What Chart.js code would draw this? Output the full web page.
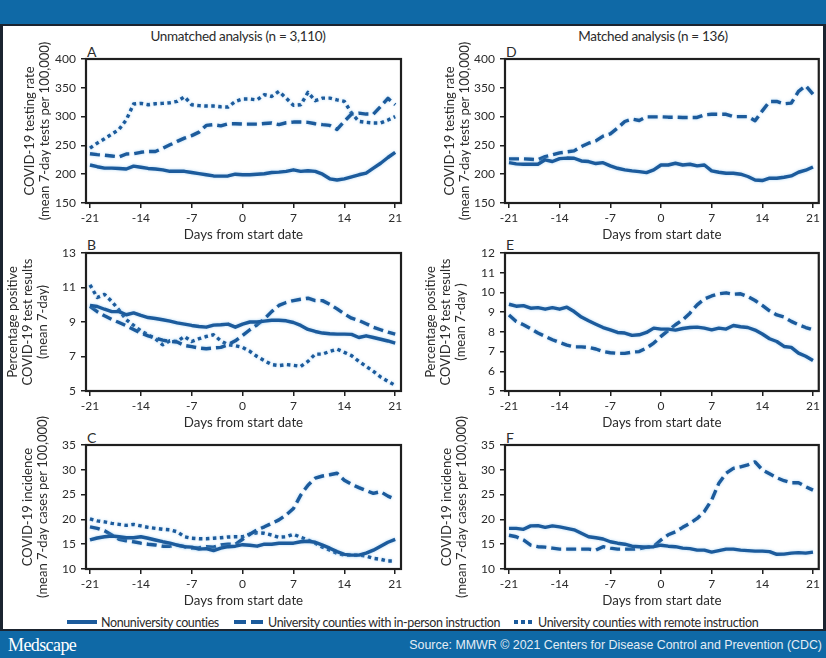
<!DOCTYPE html>
<html><head><meta charset="utf-8">
<script src="https://cdn.jsdelivr.net/npm/chart.js@4.4.1/dist/chart.umd.min.js"></script>
<style>
html,body{margin:0;padding:0;}
body{width:826px;height:658px;position:relative;overflow:hidden;background:#0f69a6;font-family:Lato,sans-serif;}
#frame{position:absolute;left:0;top:24px;width:826px;height:607px;box-sizing:border-box;background:#fff;border:2px solid #1b2430;border-left-width:3px;border-right-width:3px;}
canvas{position:absolute;}
.t{position:absolute;white-space:nowrap;line-height:normal;transform:translateY(-50%);color:#2b2b2b;}
.c{transform:translate(-50%,-50%);}
.lg{font-size:12.5px;letter-spacing:-0.38px;}
.sw{position:absolute;background:#1c5b9c;}
</style></head>
<body>
<div id="frame"></div>
<div class="t c" style="left:238px;top:36px;font-size:13.5px;letter-spacing:-0.33px;">Unmatched analysis (n = 3,110)</div>
<div class="t c" style="left:653px;top:36px;font-size:13.5px;letter-spacing:-0.33px;">Matched analysis (n = 136)</div>
<div class="t" style="left:87px;top:51px;font-size:14px;">A</div>
<div class="t" style="left:87px;top:244px;font-size:14px;">B</div>
<div class="t" style="left:87px;top:437px;font-size:14px;">C</div>
<div class="t" style="left:506px;top:51px;font-size:14px;">D</div>
<div class="t" style="left:506px;top:244px;font-size:14px;">E</div>
<div class="t" style="left:506px;top:437px;font-size:14px;">F</div>

<div class="sw" style="left:67px;top:620px;width:30px;height:4px;"></div>
<div class="t lg" style="left:101px;top:622px;" id="lg1"></div>
<div class="sw" style="left:234px;top:620px;width:12px;height:4px;"></div>
<div class="sw" style="left:251px;top:620px;width:12px;height:4px;"></div>
<div class="t lg" style="left:268px;top:622px;" id="lg2"></div>
<div class="sw" style="left:514px;top:620px;width:4px;height:4px;"></div>
<div class="sw" style="left:521px;top:620px;width:4px;height:4px;"></div>
<div class="sw" style="left:528px;top:620px;width:4px;height:4px;"></div>
<div class="t lg" style="left:538px;top:622px;" id="lg3"></div>

<div class="t" style="left:8px;top:645px;font-size:18px;color:#fff;font-family:'Liberation Serif',serif;letter-spacing:-0.6px;">Medscape</div>
<div class="t" style="right:4px;top:645px;font-size:12.4px;color:#e4edf5;font-family:'Liberation Sans',Arial,sans-serif;">Source: MMWR © 2021 Centers for Disease Control and Prevention (CDC)</div>

<script>
// ---------- data ----------
const days = [-21,-20,-19,-18,-17,-16,-15,-14,-13,-12,-11,-10,-9,-8,-7,-6,-5,-4,-3,-2,-1,0,1,2,3,4,5,6,7,8,9,10,11,12,13,14,15,16,17,18,19,20,21];
const xTickValues = [-21,-14,-7,0,7,14,21];
const seriesNames = ['Nonuniversity counties','University counties with in-person instruction','University counties with remote instruction'];

// Unmatched: testing rate
const A_non = [216,213,210.5,210.5,210,209,214,212,210,209,207.6,205,205,205,203,201,199,197,196.6,197,200,199,199,200,200.7,203,203.6,205,207.6,205,206,205,200,192,190,192,195.5,199,202,210.5,219,229,238];
const A_inp = [235.5,234,233,231.5,230,235,235.5,238,239.5,239.5,245,251,257,262.7,267,273,284.7,286,284,287.6,287.6,287,287,287,288,289,286,289.3,290.5,290.5,290,287.6,286,284.7,277.8,291.7,304.4,306,304.4,304.4,317.7,331.6,320.6];
const A_rem = [245.3,254,261.5,269.6,277.8,294.6,321.8,323,320.6,322.4,323,324,326.4,334.5,320.6,319,318.3,318.3,317,316.6,326.4,330.5,330.5,329,338,335,343.8,332,319.5,320.6,342,327.6,332,332,329,326.4,306,291.7,290,289,289,294,300];
// Unmatched: percentage positive
const B_non = [9.96,9.9,9.74,9.6,9.6,9.42,9.53,9.38,9.26,9.2,9.13,9.05,8.95,8.88,8.8,8.74,8.7,8.82,8.84,8.88,8.7,8.88,9.0,9.0,9.05,9.1,9.1,9.07,8.97,8.8,8.57,8.45,8.36,8.32,8.3,8.3,8.28,8.1,8.2,8.1,8.0,7.9,7.78];
const B_inp = [9.9,9.6,9.36,9.15,8.97,8.78,8.57,8.36,8.2,8.07,7.95,7.87,7.84,7.64,7.57,7.49,7.45,7.49,7.53,7.68,7.91,8.22,8.55,8.84,9.18,9.6,9.96,10.13,10.24,10.32,10.38,10.24,10.24,10.03,9.76,9.47,9.22,9.09,8.9,8.7,8.55,8.41,8.3];
const B_rem = [11.15,10.42,10.6,10.19,9.69,9.13,8.8,8.49,8.26,8.03,7.68,7.91,7.87,8.16,7.87,8.03,8.16,8.26,7.91,7.68,7.62,7.53,7.3,7.0,6.76,6.53,6.47,6.53,6.49,6.43,6.72,7.14,7.14,7.3,7.43,7.24,7.05,6.72,6.43,6.14,5.81,5.56,5.33];
// Unmatched: incidence
const C_non = [15.85,16.25,16.5,16.65,16.5,16.3,16.3,16.5,16.2,15.85,15.5,15.2,14.8,14.5,14.4,14.0,14.1,13.7,14.2,14.5,14.6,14.9,14.8,14.6,15.0,15.0,15.2,15.2,15.2,15.5,15.6,15.4,14.8,14.2,13.5,12.96,12.8,12.8,13.2,13.8,14.6,15.4,15.98];
const C_inp = [18.5,18.2,17.7,16.85,16.0,15.7,15.5,15.2,15.0,14.85,14.6,14.6,14.8,14.5,14.2,14.3,14.5,14.4,14.85,15.0,14.97,16.0,17.0,17.9,18.5,19.2,19.9,20.9,22.2,24.9,26.9,28.3,28.75,29.0,29.3,27.9,27.1,26.4,25.8,25.25,25.6,24.7,24.05];
const C_rem = [20.1,19.7,19.5,19.2,19.0,18.8,19.0,18.7,18.4,18.2,18.0,17.9,17.5,16.5,16.2,16.1,16.1,16.2,16.3,16.45,16.5,16.5,17.05,17.3,17.2,16.85,16.4,16.5,17.0,16.4,15.85,15.2,14.4,13.8,13.15,12.8,12.8,12.8,12.6,12.15,11.95,11.6,11.6];
// Matched: testing rate
const D_non = [220,218,217.3,217.3,217.3,225,222,227,228,227.7,223,222,218.5,220,214.4,210.3,207.4,205.7,204.5,202.8,207.4,216,216,219,216,217.3,214.4,216,205.7,203.4,201.6,201.6,200,196,190,189,193,193,194.7,197,203.4,206.9,212.6];
const D_inp = [226.6,226.6,226.6,226,225,230.6,233.5,237,238.7,240.5,248,253.8,257.9,266,270,280,291.5,295.6,293.3,299.6,299.6,299.6,299,299,298.5,298.5,298.5,303,304,304,304,300,300,300,292.8,310,326.3,326.3,322.3,323.4,343.7,353.6,339];
// Matched: percentage positive
const E_non = [9.4,9.3,9.33,9.2,9.23,9.15,9.23,9.15,9.25,9.03,8.75,8.56,8.39,8.22,8.1,7.97,7.94,7.82,7.85,7.97,8.19,8.14,8.14,8.09,8.17,8.22,8.24,8.19,8.1,8.19,8.14,8.32,8.26,8.22,8.09,7.89,7.65,7.51,7.26,7.21,6.92,6.76,6.55];
const E_inp = [8.86,8.53,8.36,8.16,7.94,7.77,7.6,7.46,7.33,7.24,7.24,7.21,7.13,7.0,6.94,6.91,6.91,6.97,7.0,7.18,7.43,7.77,8.07,8.36,8.61,8.95,9.37,9.67,9.82,9.93,9.98,9.91,9.93,9.79,9.59,9.34,9.07,8.86,8.75,8.53,8.36,8.22,8.1];
// Matched: incidence
const F_non = [18.2,18.2,18.0,18.7,18.74,18.4,18.7,18.5,18.2,17.9,17.2,16.5,16.3,16.05,15.5,15.2,15.0,14.6,14.5,14.4,14.5,14.8,14.6,14.5,14.2,14.1,13.8,13.8,13.4,13.7,14.0,14.0,13.8,13.7,13.6,13.6,13.5,12.96,13.0,13.2,13.3,13.2,13.4];
const F_inp = [16.8,16.5,15.85,14.8,14.5,14.4,14.2,14.0,14.0,14.0,14.0,14.0,13.8,14.5,14.2,14.0,14.0,14.0,14.1,14.4,14.6,15.85,16.9,17.5,18.4,19.2,20.2,21.6,23.9,27.3,29.3,30.3,30.6,31.0,31.6,30.0,29.2,28.4,27.8,27.4,27.4,26.6,25.9];

const testTicks = [150,200,250,300,350,400];
const posTicksB = [5,7,9,11,13];
const posTicksE = [5,6,7,8,9,10,11,12];
const incTicks = [10,15,20,25,30,35];

// ---------- drawing ----------
document.getElementById('lg1').textContent = seriesNames[0];
document.getElementById('lg2').textContent = seriesNames[1];
document.getElementById('lg3').textContent = seriesNames[2];

Chart.defaults.font.family = "Lato, sans-serif";
Chart.defaults.color = '#2b2b2b';
const LINE = '#1c5b9c';
const styles = [
  {borderDash: []},
  {borderDash: [10, 5]},
  {borderDash: [3.5, 3.5]}
];

const framePlugin = {
  id: 'frameBox',
  beforeDatasetsDraw(chart) { const c = chart.ctx; c.save(); c.shadowColor = 'rgba(120,185,235,0.6)'; c.shadowBlur = 3; },
  afterDatasetsDraw(chart) { chart.ctx.restore(); },
  afterDraw(chart) {
    const {ctx, chartArea: a} = chart;
    ctx.save(); ctx.strokeStyle = '#1f1f1f'; ctx.lineWidth = 2.2;
    ctx.strokeRect(a.left, a.top, a.right - a.left, a.bottom - a.top);
    ctx.restore();
  }
};

const TFS = 13, TLH = 15;
function makePanel(p) {
  const cv = document.createElement('canvas');
  const top = p.plot.t - 32;
  const xH = 40;
  const h = Math.round(p.plot.b + xH - top);
  cv.width = p.width; cv.height = h;
  cv.style.left = p.left + 'px'; cv.style.top = top + 'px';
  cv.style.width = p.width + 'px'; cv.style.height = h + 'px';
  document.body.appendChild(cv);
  const padL = p.titleX - TLH / 2 - p.left;
  const yW = p.plot.l - p.left - padL;
  const datasets = p.series.map((vals, i) => ({
    label: seriesNames[i],
    data: days.map((d, k) => ({x: d, y: vals[k]})),
    borderColor: LINE, borderWidth: 3.4, pointRadius: 0, tension: 0,
    borderCapStyle: 'butt', borderJoinStyle: 'round', fill: false,
    borderDash: styles[i].borderDash
  }));
  new Chart(cv, {
    type: 'line',
    data: {datasets},
    plugins: [framePlugin],
    options: {
      responsive: false, animation: false, devicePixelRatio: 1,
      layout: {padding: {left: padL, top: p.plot.t - top, right: p.left + p.width - p.plot.r, bottom: 0}},
      plugins: {legend: {display: false}, tooltip: {enabled: false}, title: {display: false}},
      scales: {
        x: {
          type: 'linear', min: -21.55, max: 21.8,
          afterBuildTicks: s => { s.ticks = xTickValues.map(v => ({value: v})); },
          afterFit: s => { s.height = xH; },
          grid: {drawOnChartArea: false, drawTicks: true, tickLength: 5, color: '#1f1f1f', lineWidth: 1.5},
          border: {display: false},
          ticks: {font: {size: 12}, color: '#2b2b2b', padding: 3, maxRotation: 0, autoSkip: false},
          title: {display: true, text: 'Days from start date', font: {size: 13.3, lineHeight: 1.25}, color: '#2b2b2b', padding: 0}
        },
        y: {
          type: 'linear', min: p.yMin, max: p.yMax,
          afterBuildTicks: s => { s.ticks = p.yTicks.map(v => ({value: v})); },
          afterFit: s => { s.width = yW; },
          grid: {drawOnChartArea: false, drawTicks: true, tickLength: 5, color: '#1f1f1f', lineWidth: 1.5},
          border: {display: false},
          ticks: {font: {size: 12}, color: '#2b2b2b', padding: 5},
          title: {display: true, text: p.yTitle, font: {size: TFS, lineHeight: TLH / TFS}, color: '#2b2b2b', padding: 0}
        }
      }
    }
  });
}

const L = {left: 3, width: 407}, R = {left: 412, width: 411};
makePanel({...L, plot: {l: 86, t: 59.3, r: 401, b: 203}, titleX: 30, yTitle: ['COVID-19 testing rate', '(mean 7-day tests per 100,000)'], yMin: 150, yMax: 400, yTicks: testTicks, series: [A_non, A_inp, A_rem]});
makePanel({...L, plot: {l: 86, t: 252.7, r: 401, b: 391}, titleX: 13, yTitle: ['Percentage positive', 'COVID-19 test results', '(mean 7-day)'], yMin: 5, yMax: 13, yTicks: posTicksB, series: [B_non, B_inp, B_rem]});
makePanel({...L, plot: {l: 86, t: 445, r: 401, b: 569}, titleX: 28, yTitle: ['COVID-19 incidence', '(mean 7-day cases per 100,000)'], yMin: 10, yMax: 35, yTicks: incTicks, series: [C_non, C_inp, C_rem]});
makePanel({...R, plot: {l: 505, t: 59.3, r: 819, b: 203}, titleX: 450, yTitle: ['COVID-19 testing rate', '(mean 7-day tests per 100,000)'], yMin: 150, yMax: 400, yTicks: testTicks, series: [D_non, D_inp]});
makePanel({...R, plot: {l: 505, t: 252.7, r: 819, b: 391}, titleX: 431, yTitle: ['Percentage positive', 'COVID-19 test results', '(mean 7-day )'], yMin: 5, yMax: 12, yTicks: posTicksE, series: [E_non, E_inp]});
makePanel({...R, plot: {l: 505, t: 445, r: 819, b: 569}, titleX: 447, yTitle: ['COVID-19 incidence', '(mean 7-day cases per 100,000)'], yMin: 10, yMax: 35, yTicks: incTicks, series: [F_non, F_inp]});
</script>
</body></html>
